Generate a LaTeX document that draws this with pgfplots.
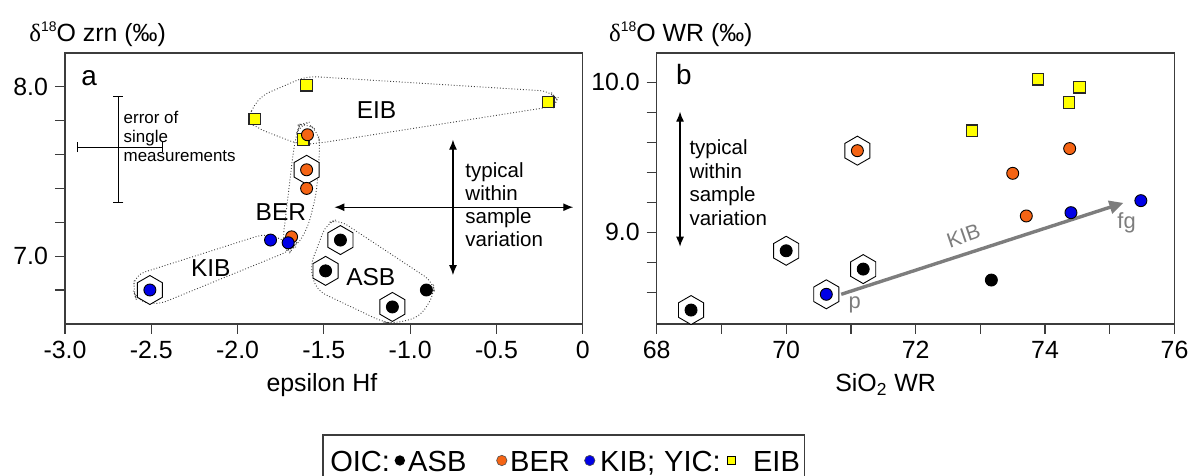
\documentclass[border=0pt]{standalone}
\usepackage{pgfplots}
\pgfplotsset{compat=1.18}
\usepackage{fontspec}
\setmainfont{Liberation Sans}
\newfontfamily\serifgr{Liberation Serif}
\usetikzlibrary{arrows.meta}

\definecolor{ber}{RGB}{245,100,20}
\definecolor{kib}{RGB}{0,0,230}
\definecolor{eib}{RGB}{255,255,0}
\definecolor{axgray}{RGB}{60,60,60}
\definecolor{arrgray}{RGB}{125,125,125}

\newcommand\fs[2]{\fontsize{#1}{#2}\selectfont}

% pointed-top hexagon used to flag samples
\pgfdeclareplotmark{hexagon}{%
  \pgfpathmoveto{\pgfpointpolar{90}{\pgfplotmarksize}}%
  \pgfpathlineto{\pgfpointpolar{150}{\pgfplotmarksize}}%
  \pgfpathlineto{\pgfpointpolar{210}{\pgfplotmarksize}}%
  \pgfpathlineto{\pgfpointpolar{270}{\pgfplotmarksize}}%
  \pgfpathlineto{\pgfpointpolar{330}{\pgfplotmarksize}}%
  \pgfpathlineto{\pgfpointpolar{30}{\pgfplotmarksize}}%
  \pgfpathclose
  \pgfusepathqfillstroke}

\tikzset{
  env/.style={densely dotted, black!75, line width=0.45bp, rounded corners=5bp},
  dbl/.style={black, line width=0.6bp, {Latex[length=5bp,width=4bp]}-{Latex[length=5bp,width=4bp]}},
  key/.style={anchor=base west, inner sep=0pt, font=\fs{14.6}{17}},
}

\pgfplotsset{
  panel/.style={
    scale only axis, width=259bp, height=135.5bp, clip=false,
    anchor=south west,
    axis line style={axgray, line width=0.7bp},
    tick style={axgray, line width=0.6bp},
    tick align=outside, major tick length=5bp, tick pos=left,
    /pgf/number format/assume math mode=true,
    ticklabel style={font=\fs{12.5}{14}},
  },
  hexa/.style={only marks, mark=hexagon, mark size=7.25bp,
    mark options={fill=white, draw=black, line width=0.45bp}},
  pt/.style={only marks, mark=*, mark size=3bp,
    mark options={draw=black, line width=0.45bp, fill=#1}},
  sq/.style={only marks, mark=square*, mark size=2.9bp,
    mark options={draw=black!85, line width=0.6bp, fill=eib}},
}

\begin{document}
\begin{tikzpicture}

% ---------- panel a ----------
\begin{axis}[panel, at={(32.5bp,-162bp)},
  xmin=-3, xmax=0, ymin=6.6, ymax=8.2,
  xtick={-3,-2.5,-2,-1.5,-1,-0.5,0},
  xticklabels={-3.0,-2.5,-2.0,-1.5,-1.0,-0.5,0},
  ytick={6.8,7.0,7.2,7.4,7.6,7.8,8.0},
  yticklabels={,7.0,,,,,8.0}]

\draw[env] (-1.948,7.806) -- (-1.871,7.944) -- (-1.60,8.063) -- (-0.188,7.974)
  -- (-0.148,7.925) -- (-0.166,7.885) -- (-1.523,7.668) -- (-1.639,7.658)
  -- (-1.89,7.757) -- cycle;
\draw[env] (-1.600,7.787) -- (-1.533,7.737) -- (-1.523,7.648) -- (-1.543,7.372)
  -- (-1.591,7.174) -- (-1.658,7.055) -- (-1.716,7.036) -- (-1.739,7.085)
  -- (-1.678,7.609) -- (-1.658,7.727) -- (-1.639,7.777) -- cycle;
\draw[env] (-2.605,6.798) -- (-2.595,6.888) -- (-1.832,7.135) -- (-1.668,7.065)
  -- (-1.687,7.036) -- (-2.469,6.71) -- (-2.585,6.739) -- cycle;
\draw[env] (-1.485,7.194) -- (-1.417,7.218) -- (-0.867,6.848) -- (-0.858,6.779)
  -- (-0.944,6.640) -- (-1.099,6.601) -- (-1.157,6.611) -- (-1.543,6.798)
  -- (-1.581,6.937) -- cycle;

\addplot[hexa] coordinates {(-1.404,7.095) (-1.49,6.913) (-1.103,6.70) (-1.60,7.51) (-2.508,6.80)};
\addplot[sq] coordinates {(-1.60,8.01) (-1.90,7.81) (-1.62,7.69) (-0.20,7.91)};
\addplot[pt=ber] coordinates {(-1.595,7.717) (-1.60,7.51) (-1.60,7.40) (-1.687,7.114)};
\addplot[pt=black] coordinates {(-1.404,7.095) (-1.49,6.913) (-1.103,6.70) (-0.906,6.80)};
\addplot[pt=kib] coordinates {(-1.809,7.095) (-1.707,7.079) (-2.508,6.80)};

\node[font=\fs{14}{16}] at (-2.86,8.05) {a};
\draw[black, line width=0.5bp, {Bar[width=5bp]}-{Bar[width=5bp]}] (-2.69,7.944) -- (-2.69,7.316);
\draw[black, line width=0.5bp, {Bar[width=5bp]}-{Bar[width=5bp]}] (-2.933,7.644) -- (-2.43,7.644);
\node[anchor=west, align=left, inner sep=0pt, font=\fs{8.5}{9.5}] at (-2.662,7.706)
  {error of\\single\\measurements};
\draw[dbl] (-0.752,7.688) -- (-0.752,6.888);
\draw[dbl] (-1.439,7.289) -- (-0.055,7.289);
\node[anchor=west, align=left, inner sep=0pt, font=\fs{10.3}{11.6}] at (-0.682,7.305)
  {typical\\within\\sample\\variation};
\node[font=\fs{12.3}{14}] at (-1.195,7.865) {EIB};
\node[font=\fs{12.3}{14}] at (-1.749,7.263) {BER};
\node[font=\fs{12.3}{14}] at (-2.155,6.927) {KIB};
\node[font=\fs{12.3}{14}] at (-1.228,6.874) {ASB};
\end{axis}

% ---------- panel b ----------
\begin{axis}[panel, at={(328.5bp,-162bp)},
  xmin=68, xmax=76, ymin=8.39, ymax=10.195,
  xtick={68,...,76},
  xticklabels={68,,70,,72,,74,,76},
  ytick={8.6,8.8,9.0,9.2,9.4,9.6,9.8,10.0},
  yticklabels={,,9.0,,,,,10.0}]

\addplot[hexa] coordinates {(68.53,8.482) (70.0,8.877) (71.19,8.755) (70.62,8.587) (71.10,9.544)};
\draw[arrgray, line width=1.7bp, -{Triangle[length=7bp,width=6.5bp]}] (70.85,8.587) -- (75.21,9.196);
\addplot[sq] coordinates {(72.87,9.677) (73.89,10.02) (74.37,9.864) (74.53,9.967)};
\addplot[pt=black] coordinates {(68.53,8.482) (70.0,8.877) (71.19,8.755) (73.17,8.682)};
\addplot[pt=ber] coordinates {(71.10,9.544) (73.50,9.393) (73.71,9.109) (74.38,9.558)};
\addplot[pt=kib] coordinates {(70.62,8.587) (74.40,9.131) (75.48,9.211)};

\node[font=\fs{14}{16}] at (68.42,10.05) {b};
\draw[dbl] (68.36,9.804) -- (68.36,8.904);
\node[anchor=west, align=left, inner sep=0pt, font=\fs{10.3}{11.8}] at (68.50,9.33)
  {typical\\within\\sample\\variation};
\node[arrgray, rotate=19, font=\fs{10.5}{12}, inner sep=1pt] at (72.74,8.975) {KIB};
\node[arrgray, font=\fs{11}{12}] at (71.06,8.515) {p};
\node[arrgray, font=\fs{11}{12}] at (75.26,9.06) {fg};
\end{axis}

% ---------- labels and key, in pixel units of the reference ----------
\begin{scope}[x=0.5bp, y=-0.5bp]
\useasboundingbox (0,0) rectangle (1195,476);
\node[anchor=base west, inner sep=0pt, font=\fs{12.5}{14}] at (29,42)
  {{\serifgr δ}\raisebox{0.8ex}{\fs{7}{7}18}O zrn (‰)};
\node[anchor=base west, inner sep=0pt, font=\fs{12.5}{14}] at (609,42)
  {{\serifgr δ}\raisebox{0.8ex}{\fs{7}{7}18}O WR (‰)};
\node[font=\fs{12.5}{14}] at (322,385) {epsilon Hf};
\node[font=\fs{12.5}{14}] at (886,385) {SiO\textsubscript{2} WR};
% key box (its lower edge lies below the picture, as in the reference)
\draw[axgray, line width=0.7bp] (323,486) -- (323,435) -- (805,435) -- (805,486);
\node[key] at (330,471.5) {OIC:};
\fill[black] (400,460.7) circle (2.6bp);
\node[key] at (408,471.5) {ASB};
\draw[fill=ber, draw=black!70, line width=0.3bp] (502,460.7) circle (2.6bp);
\node[key] at (510,471.5) {BER};
\draw[fill=kib, draw=black!70, line width=0.3bp] (590,460.7) circle (2.6bp);
\node[key] at (600,471.5) {KIB;};
\node[key] at (664,471.5) {YIC:};
\draw[fill=eib, draw=black, line width=0.4bp] (728,456.7) rectangle (736,464.7);
\node[key] at (753,471.5) {EIB};
\end{scope}
\end{tikzpicture}
\end{document}
